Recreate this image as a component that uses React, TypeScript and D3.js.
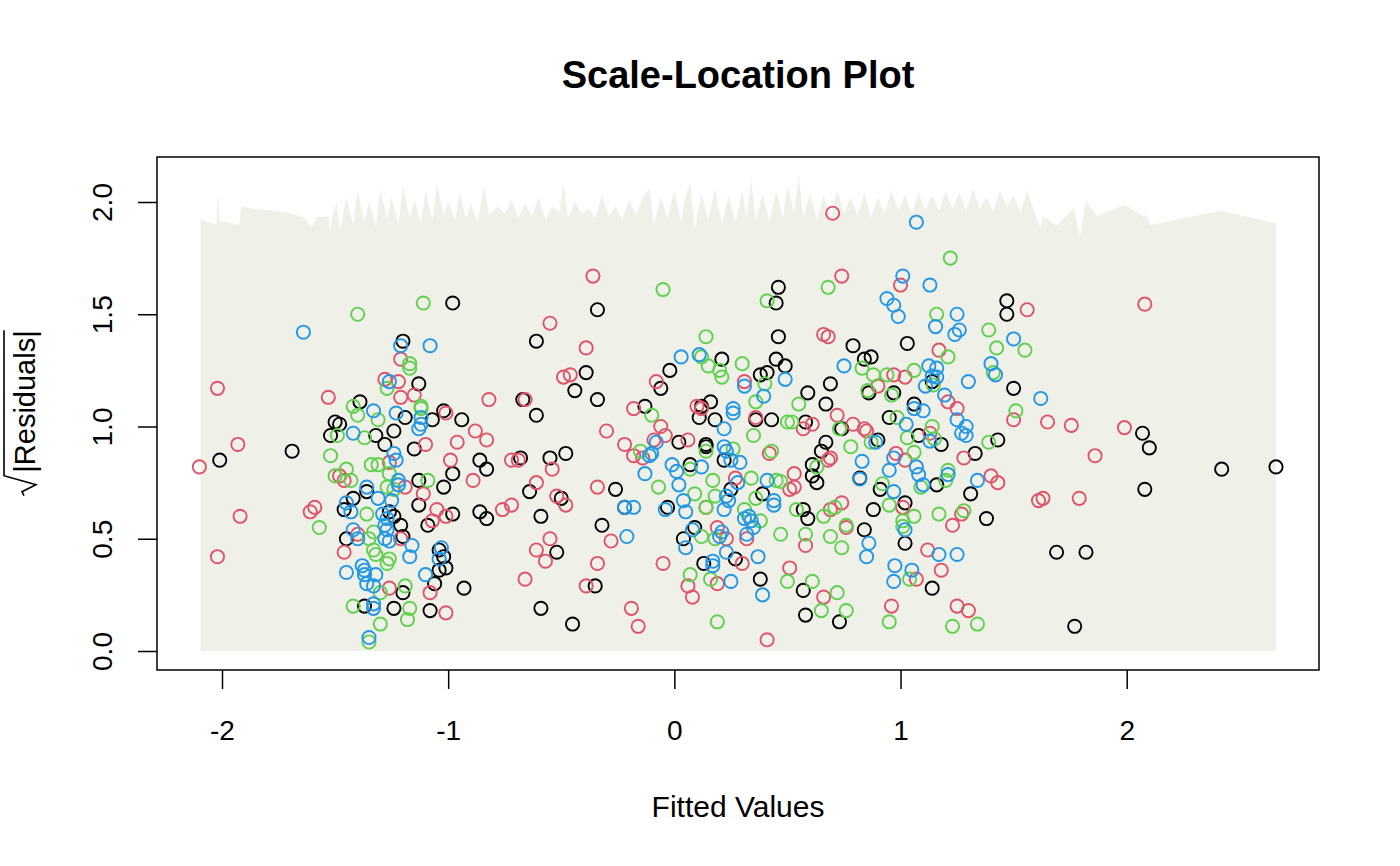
import { useEffect, useRef } from "react";
import * as d3 from "d3";

type Pt = [number, number];

// fitted value, sqrt|residual|, one array per group
const blackPts: Pt[] = [
  [-0.98,1.55],[-1.20,1.38],[-1.13,1.19],[-1.39,1.11],[-1.19,1.04],[-1.07,1.03],[-1.02,1.07],[-0.94,1.03],
  [-1.50,1.02],[-1.48,1.01],[-1.52,0.96],[-1.32,0.96],[-1.24,0.98],[-1.28,0.92],[-1.69,0.89],[-1.15,0.90],
  [-2.01,0.85],[-0.86,0.85],[-0.98,0.79],[-1.36,0.71],[-1.13,0.76],[-1.02,0.73],[-1.42,0.68],[-1.46,0.63],
  [-1.13,0.65],[-1.26,0.62],[-1.24,0.60],[-0.98,0.61],[-1.09,0.56],[-0.86,0.62],[-1.21,0.56],[-1.45,0.50],
  [-1.20,0.51],[-1.04,0.45],[-1.02,0.42],[-1.01,0.37],[-1.04,0.36],[-1.06,0.30],[-1.20,0.26],[-0.93,0.28],
  [-1.37,0.20],[-1.24,0.19],[-1.08,0.18],
  [-0.34,1.52],[-0.61,1.38],[0.21,1.30],[-0.02,1.25],[-0.39,1.24],[-0.44,1.16],[-0.06,1.17],[-0.34,1.12],
  [-0.67,1.12],[-0.61,1.05],[-0.13,1.09],[0.11,1.04],[0.12,1.09],[0.16,1.11],[0.18,1.03],[0.02,0.93],
  [0.14,0.92],[0.14,0.91],[-0.83,0.81],[-0.68,0.86],[-0.55,0.86],[-0.48,0.88],[0.22,0.85],[0.07,0.83],
  [-0.64,0.71],[-0.26,0.72],[0.25,0.72],[-0.50,0.68],[-0.59,0.60],[-0.22,0.64],[-0.03,0.64],[-0.32,0.56],
  [-0.52,0.44],[0.09,0.55],[0.04,0.50],[0.13,0.39],[0.27,0.41],[-0.35,0.29],[-0.59,0.19],[-0.45,0.12],
  [-0.83,0.59],
  [0.46,1.62],[0.45,1.55],[1.47,1.56],[1.47,1.50],[0.46,1.40],[0.79,1.36],[1.03,1.37],[0.84,1.30],
  [0.87,1.31],[0.45,1.30],[0.49,1.27],[1.14,1.20],[0.38,1.23],[0.41,1.24],[1.50,1.17],[0.59,1.15],
  [0.69,1.19],[0.86,1.15],[0.97,1.15],[0.67,1.10],[1.06,1.10],[0.36,1.03],[0.43,1.03],[0.58,1.02],
  [0.95,1.04],[0.74,0.99],[0.90,0.94],[1.08,0.96],[1.18,0.92],[0.67,0.93],[0.65,0.89],[1.33,0.88],
  [1.43,0.94],[0.61,0.83],[0.61,0.78],[0.63,0.75],[0.39,0.70],[0.82,0.77],[0.91,0.72],[1.16,0.74],
  [1.31,0.70],[1.02,0.66],[0.57,0.63],[0.59,0.59],[0.88,0.63],[1.38,0.59],[1.02,0.48],[0.84,0.54],
  [0.38,0.32],[0.57,0.27],[1.14,0.28],[0.58,0.16],[0.73,0.13],
  [2.07,0.97],[2.10,0.905],[2.42,0.81],[2.66,0.82],[2.08,0.72],[1.69,0.44],[1.82,0.44],[1.77,0.11],
];

const redPts: Pt[] = [
  [-1.21,1.30],[-2.02,1.17],[-1.28,1.21],[-1.22,1.20],[-1.53,1.13],[-1.21,1.13],[-1.15,1.14],[-1.01,1.06],
  [-0.88,0.98],[-1.10,0.92],[-0.96,0.93],[-1.93,0.92],[-2.10,0.82],[-1.26,0.84],[-0.99,0.85],[-1.48,0.78],
  [-1.46,0.76],[-1.19,0.73],[-0.89,0.76],[-1.11,0.70],[-1.05,0.63],[-1.59,0.64],[-1.61,0.62],[-1.92,0.60],
  [-1.01,0.60],[-1.07,0.58],[-1.40,0.52],[-1.21,0.50],[-1.46,0.44],[-2.02,0.42],[-1.26,0.28],[-1.08,0.26],
  [-1.01,0.17],
  [-0.36,1.67],[-0.55,1.46],[-0.39,1.35],[-0.49,1.22],[-0.46,1.23],[-0.08,1.20],[-0.82,1.12],[-0.66,1.12],
  [-0.18,1.08],[0.10,1.09],[0.12,1.08],[-0.06,1.00],[-0.04,0.96],[-0.30,0.98],[-0.83,0.94],[-0.22,0.92],
  [-0.09,0.94],[0.06,0.94],[-0.72,0.85],[-0.69,0.85],[-0.54,0.81],[-0.18,0.87],[-0.14,0.86],[-0.61,0.75],
  [-0.34,0.73],[0.27,0.77],[-0.52,0.69],[-0.48,0.65],[-0.76,0.63],[-0.72,0.65],[0.14,0.64],[-0.28,0.49],
  [-0.55,0.50],[-0.61,0.45],[-0.57,0.40],[0.19,0.55],[0.23,0.50],[-0.34,0.39],[-0.05,0.39],[0.06,0.29],
  [0.08,0.24],[0.19,0.30],[-0.66,0.32],[-0.39,0.29],[-0.19,0.19],[-0.16,0.11],
  [0.70,1.95],[0.74,1.67],[1.00,1.63],[1.56,1.52],[0.66,1.41],[0.68,1.40],[1.17,1.34],[0.97,1.23],
  [1.02,1.22],[0.31,1.20],[0.90,1.18],[1.21,1.11],[1.25,1.08],[0.72,1.05],[0.36,1.04],[0.57,0.99],
  [0.61,1.01],[1.50,1.03],[0.79,1.01],[0.84,0.99],[0.85,0.98],[1.13,0.97],[0.42,0.88],[0.69,0.86],
  [0.68,0.85],[0.98,0.88],[1.02,0.85],[1.28,0.86],[1.40,0.78],[1.43,0.75],[0.53,0.79],[0.53,0.73],
  [0.51,0.72],[1.01,0.64],[0.69,0.63],[0.74,0.66],[1.27,0.61],[1.23,0.56],[0.32,0.50],[0.76,0.55],
  [0.58,0.47],[1.12,0.45],[0.30,0.39],[0.51,0.37],[0.66,0.24],[1.07,0.32],[1.18,0.36],[0.96,0.20],
  [1.25,0.20],[1.30,0.18],[0.41,0.05],
  [2.08,1.545],[1.65,1.02],[1.755,1.005],[1.99,0.995],[1.86,0.87],[1.63,0.68],[1.61,0.67],[1.79,0.68],
];

const greenPts: Pt[] = [
  [-1.11,1.55],[-1.40,1.50],[-1.17,1.28],[-1.17,1.26],[-1.27,1.17],[-1.42,1.09],[-1.12,1.09],[-1.12,1.08],
  [-1.40,1.05],[-1.31,1.03],[-1.49,0.96],[-1.37,0.95],[-1.52,0.87],[-1.45,0.81],[-1.34,0.83],[-1.31,0.83],
  [-1.26,0.79],[-1.50,0.78],[-1.43,0.76],[-1.24,0.72],[-1.09,0.76],[-1.27,0.73],[-1.36,0.61],[-1.57,0.55],
  [-1.33,0.53],[-1.35,0.50],[-1.33,0.45],[-1.32,0.43],[-1.26,0.41],[-1.27,0.39],[-1.30,0.26],[-1.19,0.29],
  [-1.42,0.20],[-1.17,0.19],[-1.18,0.14],[-1.30,0.12],[-1.35,0.04],
  [-0.05,1.61],[0.14,1.40],[0.12,1.31],[0.15,1.27],[0.20,1.25],[0.21,1.22],[-0.10,1.05],[0.14,0.89],
  [0.26,0.90],[-0.15,0.89],[0.07,0.81],[-0.07,0.73],[0.17,0.76],[0.09,0.70],[0.18,0.69],[0.14,0.64],
  [0.12,0.51],[0.18,0.50],[0.07,0.34],[0.16,0.32],[0.19,0.13],
  [1.22,1.75],[0.68,1.62],[0.41,1.56],[1.16,1.50],[1.39,1.43],[1.425,1.35],[1.55,1.34],[1.21,1.31],
  [0.30,1.28],[0.83,1.26],[0.88,1.23],[0.94,1.23],[1.06,1.25],[1.145,1.185],[0.40,1.19],[1.41,1.24],
  [0.855,1.16],[0.96,1.14],[0.36,1.11],[0.55,1.10],[0.50,1.02],[0.52,1.02],[0.985,1.04],[1.03,0.95],
  [1.51,1.07],[0.73,0.99],[0.87,0.93],[1.14,1.00],[1.15,0.945],[0.35,0.96],[0.43,0.89],[0.78,0.91],
  [1.06,0.885],[1.39,0.93],[0.63,0.82],[1.09,0.73],[1.21,0.805],[1.20,0.76],[0.34,0.77],[0.45,0.76],
  [0.47,0.755],[0.36,0.68],[0.92,0.745],[0.95,0.65],[0.54,0.63],[0.66,0.60],[0.71,0.64],[1.17,0.61],
  [1.28,0.625],[1.06,0.60],[1.01,0.58],[1.01,0.555],[0.38,0.58],[0.47,0.52],[0.58,0.52],[0.76,0.56],
  [0.69,0.51],[0.74,0.46],[0.31,0.63],[0.50,0.31],[0.61,0.31],[0.72,0.26],[1.04,0.32],[0.65,0.18],
  [0.76,0.18],[0.95,0.13],[1.23,0.11],[1.34,0.12],
];

const bluePts: Pt[] = [
  [-1.64,1.42],[-1.21,1.36],[-1.08,1.36],[-1.26,1.20],[-1.33,1.07],[-1.23,1.06],[-1.12,1.04],[-1.12,1.01],
  [-1.13,0.99],[-1.42,0.97],[-1.24,0.88],[-1.23,0.85],[-1.36,0.73],[-1.22,0.76],[-1.22,0.74],[-1.45,0.66],
  [-1.31,0.68],[-1.25,0.67],[-1.43,0.62],[-1.29,0.61],[-1.27,0.59],[-1.28,0.56],[-1.27,0.54],[-1.42,0.54],
  [-1.40,0.50],[-1.28,0.50],[-1.26,0.49],[-1.16,0.47],[-1.17,0.42],[-1.03,0.46],[-1.04,0.41],[-1.45,0.35],
  [-1.38,0.38],[-1.37,0.36],[-1.37,0.34],[-1.32,0.34],[-1.10,0.34],[-1.36,0.30],[-1.33,0.29],[-1.33,0.21],
  [-1.33,0.19],[-1.35,0.06],
  [0.03,1.31],[0.11,1.32],[0.26,1.08],[0.26,1.06],[0.22,0.99],[-0.08,0.93],[0.22,0.91],[0.23,0.89],
  [-0.11,0.87],[-0.10,0.88],[0.25,0.85],[0.29,0.84],[0.12,0.82],[-0.01,0.83],[0.01,0.80],[-0.13,0.79],
  [0.02,0.74],[0.28,0.75],[0.23,0.69],[0.24,0.67],[-0.22,0.64],[-0.18,0.64],[-0.04,0.63],[0.04,0.67],
  [0.05,0.62],[0.22,0.63],[-0.21,0.51],[0.08,0.54],[0.05,0.46],[0.21,0.53],[0.20,0.51],[0.17,0.40],
  [0.17,0.38],[0.23,0.44],[0.25,0.31],
  [1.07,1.91],[1.01,1.67],[1.13,1.63],[0.94,1.57],[0.97,1.54],[0.99,1.49],[1.25,1.50],[1.155,1.445],
  [1.24,1.41],[1.26,1.43],[1.50,1.39],[0.75,1.27],[1.125,1.27],[1.16,1.26],[1.14,1.225],[1.16,1.22],
  [1.11,1.18],[0.31,1.18],[0.49,1.21],[1.40,1.28],[1.42,1.23],[1.30,1.20],[1.195,1.14],[0.395,1.135],
  [1.06,1.08],[1.10,1.07],[1.025,1.01],[1.25,1.03],[1.29,1.00],[1.27,0.97],[1.29,0.96],[0.89,0.93],
  [1.13,0.935],[0.97,0.86],[0.83,0.845],[0.95,0.805],[1.07,0.82],[1.08,0.786],[1.10,0.74],[1.21,0.786],
  [1.34,0.76],[0.41,0.76],[0.44,0.67],[0.44,0.65],[0.82,0.766],[0.97,0.71],[1.02,0.54],[0.33,0.60],
  [0.34,0.58],[0.31,0.59],[0.35,0.55],[0.32,0.52],[0.86,0.48],[0.85,0.42],[1.17,0.43],[1.25,0.43],
  [0.37,0.42],[0.39,0.25],[0.975,0.38],[0.97,0.31],[1.05,0.36],
  [1.62,1.125],
];

// upper edge of the shaded band (x, top)
const bandTop: Pt[] = [
  [-2.095,1.924],[-2.024,1.899],[-2.021,2.036],[-2.009,1.917],[-1.923,1.899],[-1.916,1.979],[-1.699,1.951],
  [-1.640,1.932],[-1.603,1.887],[-1.581,1.932],[-1.530,1.936],[-1.522,1.872],[-1.508,1.954],[-1.493,1.999],
  [-1.478,1.872],
  [-1.45,2.02],[-1.42,1.90],[-1.40,2.05],[-1.37,1.91],[-1.35,2.00],[-1.32,1.89],[-1.30,2.06],[-1.27,1.92],
  [-1.25,2.02],[-1.22,1.90],[-1.20,2.07],[-1.17,1.93],[-1.15,2.01],[-1.12,1.91],[-1.10,2.05],[-1.07,1.92],
  [-1.05,2.08],[-1.02,1.94],[-1.00,2.00],[-0.97,1.92],[-0.95,2.04],[-0.92,1.93],[-0.90,1.99],[-0.87,1.91],
  [-0.84,2.07],[-0.82,1.94],[-0.78,1.98],[-0.75,1.95],[-0.72,2.01],[-0.69,1.93],[-0.66,1.99],[-0.63,1.94],
  [-0.60,2.02],[-0.57,1.92],[-0.54,1.98],[-0.51,1.95],[-0.49,2.08],[-0.47,1.93],[-0.44,2.00],[-0.41,1.95],
  [-0.38,1.97],[-0.35,1.93],[-0.32,2.03],[-0.29,1.94],[-0.26,1.98],[-0.23,1.92],[-0.20,2.01],[-0.17,1.94],
  [-0.14,2.02],[-0.11,2.06],[-0.09,1.90],[-0.06,2.02],[-0.03,1.93],[0.00,2.05],[0.03,1.91],[0.05,2.03],
  [0.07,2.08],[0.09,1.88],[0.12,2.04],[0.15,1.92],[0.18,2.06],[0.21,1.90],[0.24,2.03],[0.27,1.91],
  [0.30,2.05],[0.32,1.93],[0.34,2.10],[0.36,1.92],[0.39,2.04],[0.42,1.91],[0.45,2.05],[0.48,1.93],
  [0.50,2.07],[0.53,1.95],[0.55,2.12],[0.57,1.93],[0.60,2.04],[0.63,1.92],[0.66,2.03],[0.69,1.93],
  [0.72,2.05],[0.75,1.95],[0.78,2.02],[0.81,1.94],[0.84,2.04],[0.87,1.93],[0.90,2.02],[0.93,1.95],
  [0.96,2.05],[0.99,1.96],[1.02,2.03],[1.05,1.95],[1.08,2.04],[1.11,1.96],[1.14,2.03],[1.17,1.96],
  [1.20,2.05],[1.23,1.97],[1.26,2.04],[1.29,1.96],[1.32,2.06],[1.35,1.97],[1.38,2.02],[1.41,1.96],
  [1.44,2.05],[1.47,1.98],[1.50,2.03],[1.53,1.95],
  [1.56,2.05],[1.605,1.917],[1.62,1.887],[1.627,1.932],[1.646,1.927],[1.69,1.894],[1.767,1.972],
  [1.793,1.842],[1.819,2.006],[1.867,1.939],[1.993,1.988],[2.077,1.932],[2.084,1.946],[2.106,1.897],
  [2.416,1.961],[2.66,1.905],
];

const xTicks = [-2, -1, 0, 1, 2];
const yTicks = [0, 0.5, 1, 1.5, 2];

const series = [
  { pts: blackPts, color: "#000000" },
  { pts: redPts, color: "#DF536B" },
  { pts: greenPts, color: "#61D04F" },
  { pts: bluePts, color: "#2297E6" },
];

const FONT = "'Liberation Sans', Arial, Helvetica, sans-serif";

export default function App() {
  const svgRef = useRef<SVGSVGElement>(null);

  useEffect(() => {
    document.body.style.margin = "0";
    const svg = d3.select(svgRef.current);
    svg.selectAll("*").remove();

    const box = { left: 157, top: 157, right: 1319, bottom: 670 };
    const x = d3.scaleLinear().domain([-2, 2]).range([222, 1126.7]);
    const y = d3.scaleLinear().domain([0, 2]).range([651, 202]);

    svg.append("rect").attr("width", 1400).attr("height", 866).attr("fill", "#ffffff");

    // shaded band
    const area = d3.area<Pt>()
      .x(d => x(d[0]))
      .y0(y(0))
      .y1(d => y(d[1]));
    svg.append("path")
      .datum(bandTop)
      .attr("d", area)
      .attr("fill", "#EFF1E8");

    // points
    series.forEach(s => {
      svg.append("g")
        .selectAll("circle")
        .data(s.pts)
        .enter().append("circle")
        .attr("cx", d => x(d[0]))
        .attr("cy", d => y(d[1]))
        .attr("r", 6.6)
        .attr("fill", "none")
        .attr("stroke", s.color)
        .attr("stroke-width", 1.9);
    });

    // frame
    svg.append("rect")
      .attr("x", box.left).attr("y", box.top)
      .attr("width", box.right - box.left).attr("height", box.bottom - box.top)
      .attr("fill", "none").attr("stroke", "#000").attr("stroke-width", 1.5);

    // x axis (plain hyphen minus, as R prints it)
    svg.append("g")
      .attr("transform", `translate(0,${box.bottom})`)
      .call(d3.axisBottom(x).tickValues(xTicks).tickSize(19).tickPadding(31).tickFormat(d => String(d)))
      .call(ax => ax.select(".domain").remove())
      .call(ax => ax.selectAll(".tick line").attr("stroke", "#000").attr("stroke-width", 1.5))
      .call(ax => ax.selectAll(".tick text")
        .attr("fill", "#000").attr("font-size", 28).attr("font-family", FONT));

    // y axis, labels turned like R's
    svg.append("g")
      .attr("transform", `translate(${box.left},0)`)
      .call(d3.axisLeft(y).tickValues(yTicks).tickSize(19).tickFormat(d3.format(".1f")))
      .call(ax => ax.select(".domain").remove())
      .call(ax => ax.selectAll(".tick line").attr("stroke", "#000").attr("stroke-width", 1.5))
      .call(ax => ax.selectAll(".tick text")
        .attr("x", null).attr("dy", null)
        .attr("text-anchor", "middle")
        .attr("transform", `translate(${112 - box.left},0) rotate(-90)`)
        .attr("fill", "#000").attr("font-size", 28).attr("font-family", FONT));

    // title
    svg.append("text")
      .attr("x", (box.left + box.right) / 2).attr("y", 88)
      .attr("text-anchor", "middle")
      .attr("font-family", FONT).attr("font-size", 38).attr("font-weight", "bold")
      .text("Scale-Location Plot");

    // x label
    svg.append("text")
      .attr("x", (box.left + box.right) / 2).attr("y", 817)
      .attr("text-anchor", "middle")
      .attr("font-family", FONT).attr("font-size", 30)
      .text("Fitted Values");

    // y label: sqrt sign drawn as a path with an overline
    const gl = svg.append("g").attr("transform", `translate(35,${(box.top + box.bottom) / 2}) rotate(-90)`);
    const res = gl.append("text")
      .attr("font-family", FONT).attr("font-size", 29)
      .text("|Residuals|");
    const wRes = (res.node() as SVGTextElement).getComputedTextLength();
    const wRad = 24;
    const start = -(wRes + wRad) / 2;
    res.attr("x", start + wRad);
    gl.append("path")
      .attr("d", `M${start + 1},-11 L${start + 5},-13 L${start + 12},1 L${start + 21},-31 L${start + wRad + wRes},-31`)
      .attr("fill", "none").attr("stroke", "#000").attr("stroke-width", 1.6);
  }, []);

  return <svg ref={svgRef} width={1400} height={866} style={{ display: "block" }} />;
}
